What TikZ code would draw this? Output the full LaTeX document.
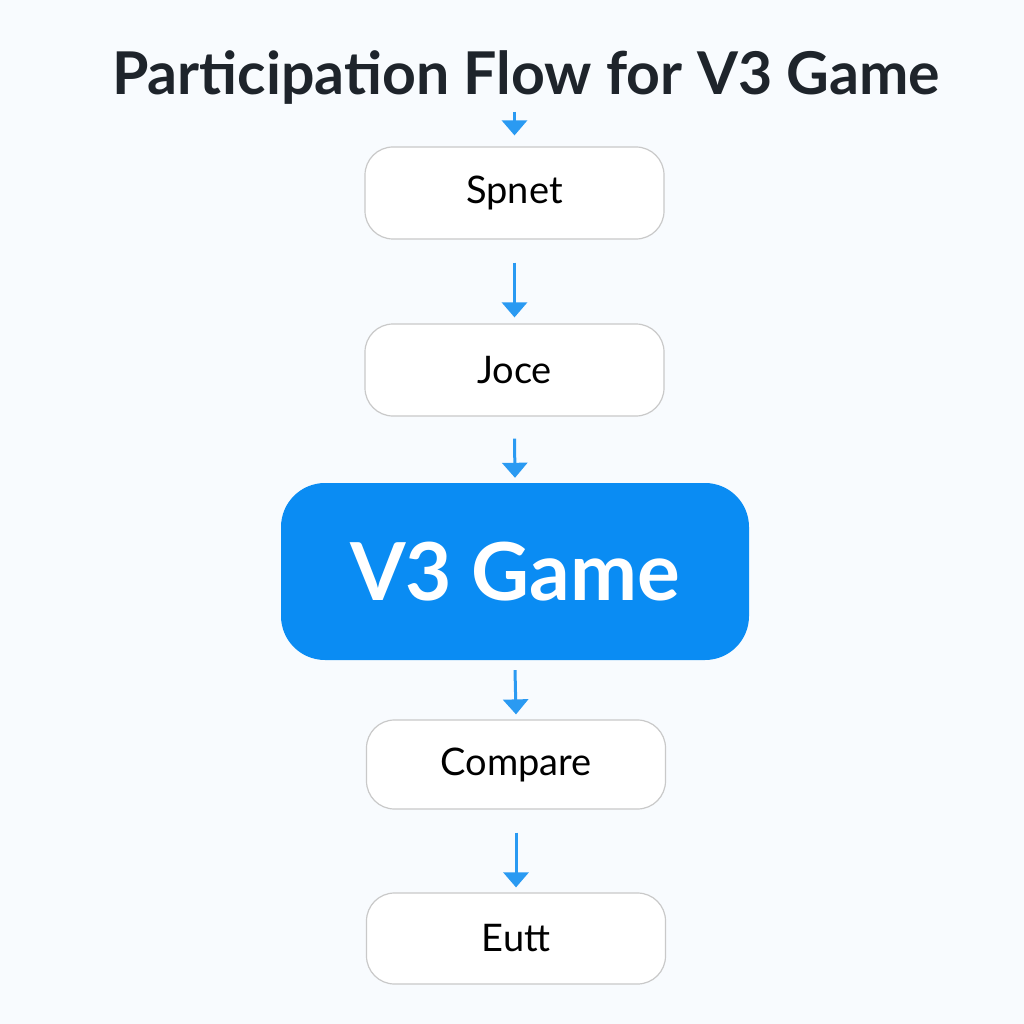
\documentclass[tikz,border=0pt]{standalone}
\usepackage{fontspec}
\setmainfont{Lato}
\usetikzlibrary{arrows.meta}
\definecolor{bg}{HTML}{F8FBFE}
\definecolor{flowblue}{HTML}{0A8CF3}
\definecolor{arrowblue}{HTML}{2A9AF2}
\definecolor{boxline}{HTML}{C9C9C9}
\definecolor{titlecol}{HTML}{1E242B}
\tikzset{
  stepbox/.style={draw=boxline, line width=1.2pt, fill=white, rounded corners=28pt,
    minimum width=299pt, minimum height=92pt, inner sep=0pt,
    font=\fontsize{38}{44}\selectfont, text=black},
  mainbox/.style={fill=flowblue, draw=none, rounded corners=44pt,
    minimum width=468pt, minimum height=177pt, inner sep=0pt,
    font=\fontsize{80}{92}\selectfont\bfseries, text=white},
  flow/.style={draw=arrowblue, line width=3pt, -{Triangle[width=25pt,length=15pt]}},
}
\begin{document}
\begin{tikzpicture}[x=1pt,y=-1pt]
\useasboundingbox[fill=bg] (0,0) rectangle (1024,1024);
\node[font=\fontsize{59}{70}\selectfont\bfseries, text=titlecol] (title) at (526,78) {Participation Flow for V3 Game};
\node[stepbox] (s1) at (514.5,193) {Spnet};
\node[stepbox] (s2) at (514.5,370) {Joce};
\node[mainbox] (s3) at (515,571.5) {V3 Game};
\node[stepbox, minimum height=89pt] (s4) at (516,764.5) {Compare};
\node[stepbox, minimum height=91pt] (s5) at (516,938.5) {Eutt};
\coordinate (start) at (514.5,112);
\draw[flow] (start) -- ([yshift=11pt]s1.north);
\draw[flow] ([yshift=-23pt]s1.south) -- ([yshift=6pt]s2.north);
\draw[flow] ([yshift=-22pt]s2.south) -- ([yshift=5pt]s3.north);
\draw[flow] ([yshift=-10pt]s3.south) -- ([yshift=5pt]s4.north);
\draw[flow] ([yshift=-23pt]s4.south) -- ([yshift=5pt]s5.north);
\end{tikzpicture}
\end{document}
